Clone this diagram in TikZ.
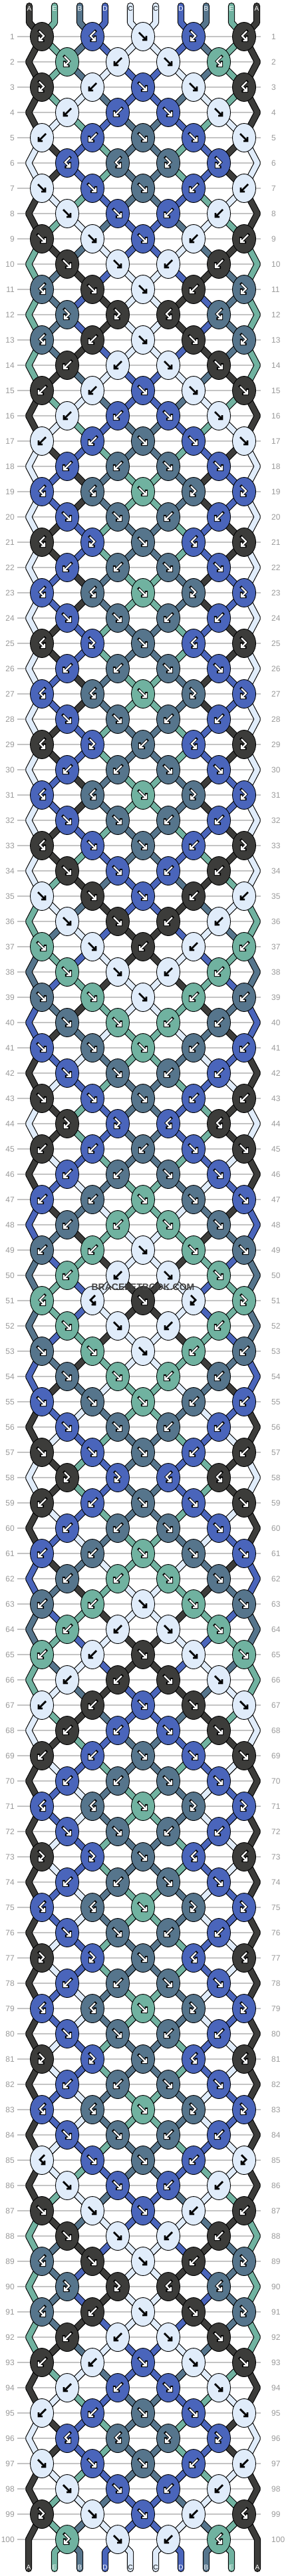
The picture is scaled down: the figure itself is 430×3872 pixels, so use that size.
\documentclass[tikz,border=0pt]{standalone}
\usepackage{fontspec}
\setmainfont{Liberation Sans}
\usetikzlibrary{shapes.geometric}
\definecolor{cA}{HTML}{3C3C3A}
\definecolor{cE}{HTML}{70B2A0}
\definecolor{cB}{HTML}{56758C}
\definecolor{cD}{HTML}{4A65BB}
\definecolor{cC}{HTML}{E0ECFA}
\definecolor{gridgrey}{HTML}{C4C4C4}
\definecolor{numgrey}{HTML}{9A9A9A}
\definecolor{wmgrey}{HTML}{444444}
\pgfdeclarelayer{gridlayer}
\pgfdeclarelayer{strandlayer}
\pgfsetlayers{gridlayer,strandlayer,main}
\def\setcs#1#2{\expandafter\xdef\csname #1\endcsname{#2}}
\def\getcs#1{\csname #1\endcsname}
\def\tF{F}\def\tB{B}\def\tFB{FB}\def\tBF{BF}
\setcs{col0}{cA}\setcs{col1}{cE}\setcs{col2}{cB}\setcs{col3}{cD}\setcs{col4}{cC}
\setcs{col5}{cC}\setcs{col6}{cD}\setcs{col7}{cB}\setcs{col8}{cE}\setcs{col9}{cA}
\setcs{let0}{A}\setcs{let1}{E}\setcs{let2}{B}\setcs{let3}{D}\setcs{let4}{C}
\setcs{let5}{C}\setcs{let6}{D}\setcs{let7}{B}\setcs{let8}{E}\setcs{let9}{A}
\setcs{wt0}{1}\setcs{wt1}{1}\setcs{wt2}{1}\setcs{wt3}{1}\setcs{wt4}{0}
\setcs{wt5}{0}\setcs{wt6}{1}\setcs{wt7}{1}\setcs{wt8}{1}\setcs{wt9}{1}
\tikzset{
  knot/.style={ellipse, draw=black, line width=0.9pt, minimum width=35pt, minimum height=43pt, inner sep=0pt},
  strand/.style={draw=black, line width=1.1pt, double=#1, double distance=8pt, line join=bevel, line cap=round},
  gridline/.style={draw=gridgrey, line width=1.2pt},
  rowlbl/.style={text=numgrey, font=\fontsize{12}{12}\selectfont, inner sep=0pt},
  endlbl/.style={font=\fontsize{10}{10}\selectfont, inner sep=0pt},
  glyphout/.style={black, line width=4.2pt, line cap=rect, line join=miter},
  glyphin/.style={white, line width=2.2pt, line join=miter},
  glyphdark/.style={black, line width=2.8pt, line join=miter}
}
\newcommand\glyphpath[1]{%
  \ifx\kt\tF \draw[#1] (-6,-6) -- (4.5,4.5) (-1,5) -- (5,5) -- (5,-1);\fi
  \ifx\kt\tB \draw[#1] (6,-6) -- (-4.5,4.5) (1,5) -- (-5,5) -- (-5,-1);\fi
  \ifx\kt\tFB \draw[#1] (-4,-8) -- (3,-1) -- (-3.5,5.5) (1.5,6) -- (-4,6) -- (-4,0.5);\fi
  \ifx\kt\tBF \draw[#1] (4,-8) -- (-3,-1) -- (3.5,5.5) (-1.5,6) -- (4,6) -- (4,0.5);\fi}
\begin{document}
\begin{tikzpicture}[x=1pt,y=-1pt]
\useasboundingbox (0,0) rectangle (430,3872);
\begin{pgfonlayer}{gridlayer}
\fill[white] (0,0) rectangle (430,3872);
\end{pgfonlayer}
% initial strings
\foreach \ps in {0,...,9}{
  \setcs{st\ps}{\ps}
  \pgfmathtruncatemacro\xx{44+38*\ps}
  \coordinate (T\ps) at (\xx,9);
  \coordinate (Tb\ps) at (\xx,34);
  \setcs{path\ps}{(T\ps) -- (Tb\ps)}
  \ifnum\getcs{wt\ps}=1 \node[endlbl,text=white] (tl\ps) at (\xx,13) {\getcs{let\ps}};
  \else \node[endlbl,text=black] (tl\ps) at (\xx,13) {\getcs{let\ps}};\fi
}
% rows
\foreach \types [count=\rw] in {
{FB,BF,F,FB,BF},{FB,B,F,BF},{FB,B,F,F,BF},{B,B,F,F},{B,B,F,F,F},
{BF,BF,FB,FB},{F,F,F,B,B},{F,F,B,B},{F,F,F,B,B},{F,F,B,B},
{BF,F,F,B,FB},{FB,FB,BF,BF},{BF,B,F,F,FB},{B,B,F,F},{B,B,F,F,F},
{B,B,F,F},{B,B,F,F,F},{B,B,F,F},{BF,BF,F,FB,FB},{F,F,B,B},
{BF,FB,F,BF,FB},{B,B,F,F},{BF,BF,F,FB,FB},{F,F,B,B},{BF,FB,F,BF,FB},
{B,B,F,F},{BF,BF,F,FB,FB},{F,F,B,B},{BF,FB,B,BF,FB},{B,B,F,F},
{BF,BF,F,FB,FB},{F,F,B,B},{BF,F,F,B,FB},{F,F,B,B},{F,F,F,B,B},
{F,F,B,B},{F,F,B,B,B},{F,F,B,B},{F,F,F,B,B},{F,F,B,B},
{F,F,F,B,B},{F,F,B,B},{F,F,F,B,B},{FB,FB,BF,BF},{B,B,B,F,F},
{B,B,F,F},{B,B,F,F,F},{B,B,F,F},{B,B,F,F,F},{B,B,F,F},
{BF,BF,F,FB,FB},{F,F,B,B},{F,F,F,B,B},{F,F,B,B},{F,F,F,B,B},
{F,F,B,B},{F,F,F,B,B},{FB,FB,BF,BF},{B,B,F,F,F},{B,B,F,F},
{B,B,F,F,F},{B,B,F,F},{B,B,F,F,F},{B,B,F,F},{B,B,F,F,F},
{B,B,F,F},{B,B,F,F,F},{B,B,F,F},{B,B,F,F,F},{B,B,F,F},
{BF,BF,F,FB,FB},{F,F,B,B},{FB,FB,F,BF,BF},{B,B,F,F},{BF,BF,F,FB,FB},
{F,F,B,B},{FB,FB,F,BF,BF},{B,B,F,F},{BF,BF,F,FB,FB},{F,F,B,B},
{FB,FB,F,BF,BF},{B,B,F,F},{BF,BF,F,FB,FB},{F,F,B,B},{BF,F,F,B,FB},
{F,F,B,B},{F,F,F,B,B},{F,F,B,B},{BF,F,F,B,FB},{FB,FB,BF,BF},
{BF,B,F,F,FB},{B,B,F,F},{B,B,F,F,F},{B,B,F,F},{B,B,F,F,F},
{BF,BF,FB,FB},{F,F,F,B,B},{F,F,B,B},{FB,F,F,B,BF},{FB,F,B,BF}}{
  \pgfmathtruncatemacro\yy{55+38*(\rw-1)}
  \pgfmathtruncatemacro\rodd{mod(\rw,2)}
  \begin{pgfonlayer}{gridlayer}
    \draw[gridline] (26,\yy) -- (392,\yy);
  \end{pgfonlayer}
  \node[rowlbl,anchor=east] (lL\rw) at (22,\yy) {\rw};
  \node[rowlbl,anchor=west] (lR\rw) at (408,\yy) {\rw};
  \ifnum\rodd=0
    \coordinate (eL-\rw) at (43,\yy);
    \coordinate (eR-\rw) at (387,\yy);
  \fi
  \foreach \ps in {0,...,9}{
    \ifnum\rodd=1
      \pgfmathtruncatemacro\kidx{int(\ps/2)}\edef\ptn{k-\rw-\kidx.center}%
    \else
      \ifnum\ps=0 \edef\ptn{eL-\rw}\else\ifnum\ps=9 \edef\ptn{eR-\rw}\else
        \pgfmathtruncatemacro\kidx{int((\ps-1)/2)}\edef\ptn{k-\rw-\kidx.center}\fi\fi
    \fi
    \edef\sid{\getcs{st\ps}}%
    \setcs{path\sid}{\getcs{path\sid} -- (\ptn)}%
  }
  \foreach \ty [count=\kn from 0] in \types {
    \ifnum\rodd=1
      \pgfmathtruncatemacro\kl{2*\kn}\pgfmathtruncatemacro\xx{63+76*\kn}%
    \else
      \pgfmathtruncatemacro\kl{2*\kn+1}\pgfmathtruncatemacro\xx{101+76*\kn}%
    \fi
    \pgfmathtruncatemacro\kr{\kl+1}%
    \edef\lid{\getcs{st\kl}}\edef\rid{\getcs{st\kr}}%
    \edef\kt{\ty}%
    \ifx\kt\tF \edef\cid{\lid}\setcs{st\kl}{\rid}\setcs{st\kr}{\lid}\fi
    \ifx\kt\tB \edef\cid{\rid}\setcs{st\kl}{\rid}\setcs{st\kr}{\lid}\fi
    \ifx\kt\tFB \edef\cid{\lid}\fi
    \ifx\kt\tBF \edef\cid{\rid}\fi
    \edef\kcol{\getcs{col\cid}}%
    \node[knot,fill=\kcol] (k-\rw-\kn) at (\xx,\yy) {};
    \ifnum\getcs{wt\cid}=1
      \glyphpath{shift={(k-\rw-\kn)},glyphout}
      \glyphpath{shift={(k-\rw-\kn)},glyphin}
    \else
      \glyphpath{shift={(k-\rw-\kn)},glyphdark}
    \fi
  }
}
% bottom ends
\foreach \ps in {0,...,9}{
  \edef\sid{\getcs{st\ps}}%
  \ifnum\ps=0 \def\xx{43}\else\ifnum\ps=9 \def\xx{387}\else\pgfmathtruncatemacro\xx{44+38*\ps}\fi\fi
  \coordinate (Bt\ps) at (\xx,3861);
  \ifnum\ps=0 \setcs{path\sid}{\getcs{path\sid} -- (Bt\ps)}%
  \else\ifnum\ps=9 \setcs{path\sid}{\getcs{path\sid} -- (Bt\ps)}%
  \else
    \coordinate (Bb\ps) at (\xx,3836);
    \setcs{path\sid}{\getcs{path\sid} -- (Bb\ps) -- (Bt\ps)}%
  \fi\fi
  \ifnum\getcs{wt\sid}=1 \node[endlbl,text=white] (bl\ps) at (\xx,3859) {\getcs{let\sid}};
  \else \node[endlbl,text=black] (bl\ps) at (\xx,3859) {\getcs{let\sid}};\fi
}
% strands
\begin{pgfonlayer}{strandlayer}
\foreach \ss in {0,...,9}{
  \edef\tmpdraw{\noexpand\draw[strand=\getcs{col\ss}] \getcs{path\ss};}%
  \tmpdraw
}
\end{pgfonlayer}
\node[font=\bfseries\fontsize{14}{14}\selectfont, text=wmgrey, inner sep=0pt] (wm) at (215,1935) {BRACELETBOOK.COM};
\end{tikzpicture}
\end{document}
